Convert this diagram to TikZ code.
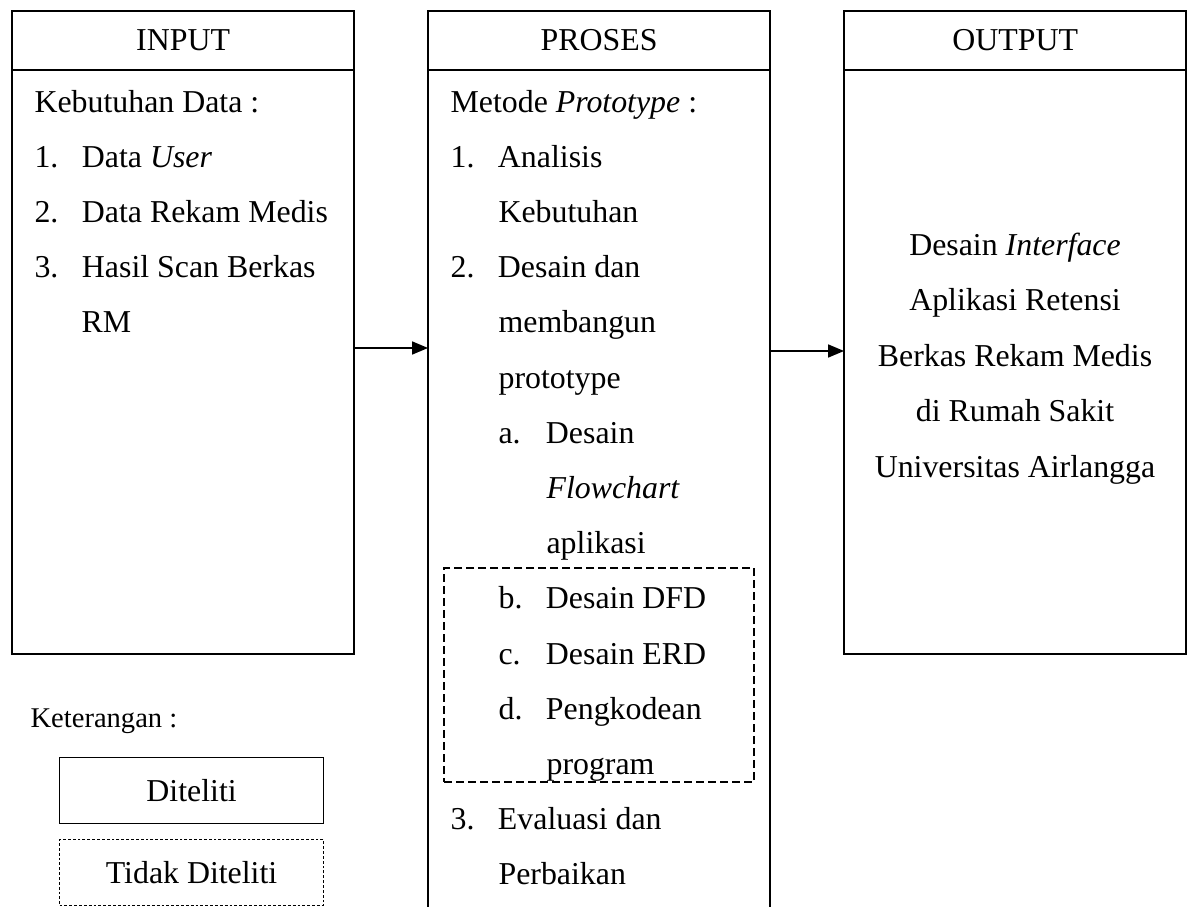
\documentclass[tikz,border=0pt]{standalone}
\usepackage{fontspec}
\setmainfont{Liberation Serif}
\usetikzlibrary{arrows.meta,positioning}

\newcommand{\itemno}[1]{\makebox[16.6pt][l]{#1}}

\begin{document}
\begin{tikzpicture}[
      x=0.35pt, y=-0.35pt,
      font=\fontsize{11.15}{13}\selectfont,
      colhead/.style={
        draw,
        line width=0.75pt,
        minimum width=119.8pt,
        minimum height=20.65pt,
        inner sep=0pt,
        outer sep=0pt
      },
      colbody/.style={
        draw,
        line width=0.75pt,
        minimum width=119.8pt,
        inner sep=0pt,
        outer sep=0pt
      },
      txt/.style={anchor=base west, inner sep=0pt},
      ctxt/.style={anchor=base, inner sep=0pt},
      legbox/.style={
        draw,
        line width=0.4pt,
        minimum width=92.4pt,
        minimum height=23.1pt,
        inner sep=0pt,
        anchor=north west
      },
      arr/.style={
        -{Triangle[length=5.6pt,width=4.6pt]},
        line width=0.45pt
      }
    ]

    \useasboundingbox (0,0) rectangle (1192,907);
    \clip (0,0) rectangle (1192,907);

    % three columns
    \node[colhead,anchor=north west] (inhead) at (12,11) {INPUT};
    \node[colbody,minimum height=204.4pt,below=0pt of inhead] (inbody) {};

    \node[colhead,anchor=north west] (prhead) at (428,11) {PROSES};
    \node[colbody,minimum height=330pt,below=0pt of prhead] (prbody) {};

    \node[colhead,anchor=north west] (outhead) at (844,11) {OUTPUT};
    \node[colbody,minimum height=204.4pt,below=0pt of outhead] (outbody) {};

    % input
    \node[txt] (in0) at (34,112) {Kebutuhan Data :};
    \node[txt] (in1) at (34,167) {\itemno{1.}Data \textit{User}};
    \node[txt] (in2) at (34,222) {\itemno{2.}Data Rekam Medis};
    \node[txt] (in3) at (34,277) {\itemno{3.}Hasil Scan Berkas};
    \node[txt] (in4) at (81,332) {RM};

    % proses
    \node[txt] (pr0) at (450,112) {Metode \textit{Prototype} :};
    \node[txt] (pr1) at (450,167.2) {\itemno{1.}Analisis};
    \node[txt] (pr2) at (498,222.4) {Kebutuhan};
    \node[txt] (pr3) at (450,277.6) {\itemno{2.}Desain dan};
    \node[txt] (pr4) at (498,332.8) {membangun};
    \node[txt] (pr5) at (498,388) {prototype};
    \node[txt] (pr6) at (498,443.2) {\itemno{a.}Desain};
    \node[txt] (pr7) at (546,498.4) {\textit{Flowchart}};
    \node[txt] (pr8) at (546,553.6) {aplikasi};
    \node[txt] (pr9) at (498,608.8) {\itemno{b.}Desain DFD};
    \node[txt] (pr10) at (498,664) {\itemno{c.}Desain ERD};
    \node[txt] (pr11) at (498,719.2) {\itemno{d.}Pengkodean};
    \node[txt] (pr12) at (546,774.4) {program};
    \node[txt] (pr13) at (450,829.6) {\itemno{3.}Evaluasi dan};
    \node[txt] (pr14) at (498,884.8) {Perbaikan};

    \node[draw,line width=0.7pt,dash pattern=on 2.8pt off 1.4pt,
      minimum width=108.5pt,minimum height=74.9pt,inner sep=0pt,
      anchor=north west] (notbox) at (443,567) {};

    % output
    \node[ctxt] (out1) at (1015,255) {Desain \textit{Interface}};
    \node[ctxt] (out2) at (1015,310.5) {Aplikasi Retensi};
    \node[ctxt] (out3) at (1015,366) {Berkas Rekam Medis};
    \node[ctxt] (out4) at (1015,421.5) {di Rumah Sakit};
    \node[ctxt] (out5) at (1015,477) {Universitas Airlangga};

    \draw[arr] ([yshift=4.9pt]inbody.east)
      -- ([yshift=4.9pt]inbody.east -| prbody.west);
    \draw[arr] ([yshift=3.85pt]outbody.west -| prbody.east)
      -- ([yshift=3.85pt]outbody.west);

    % legend
    \node[txt,font=\fontsize{10}{12}\selectfont] (ket) at (30,727)
      {Keterangan :};
    \node[legbox] (legyes) at (59,757) {Diteliti};
    \node[legbox,dash pattern=on 1pt off 0.7pt] (legno) at (59,839)
      {Tidak Diteliti};

  \end{tikzpicture}
\end{document}
